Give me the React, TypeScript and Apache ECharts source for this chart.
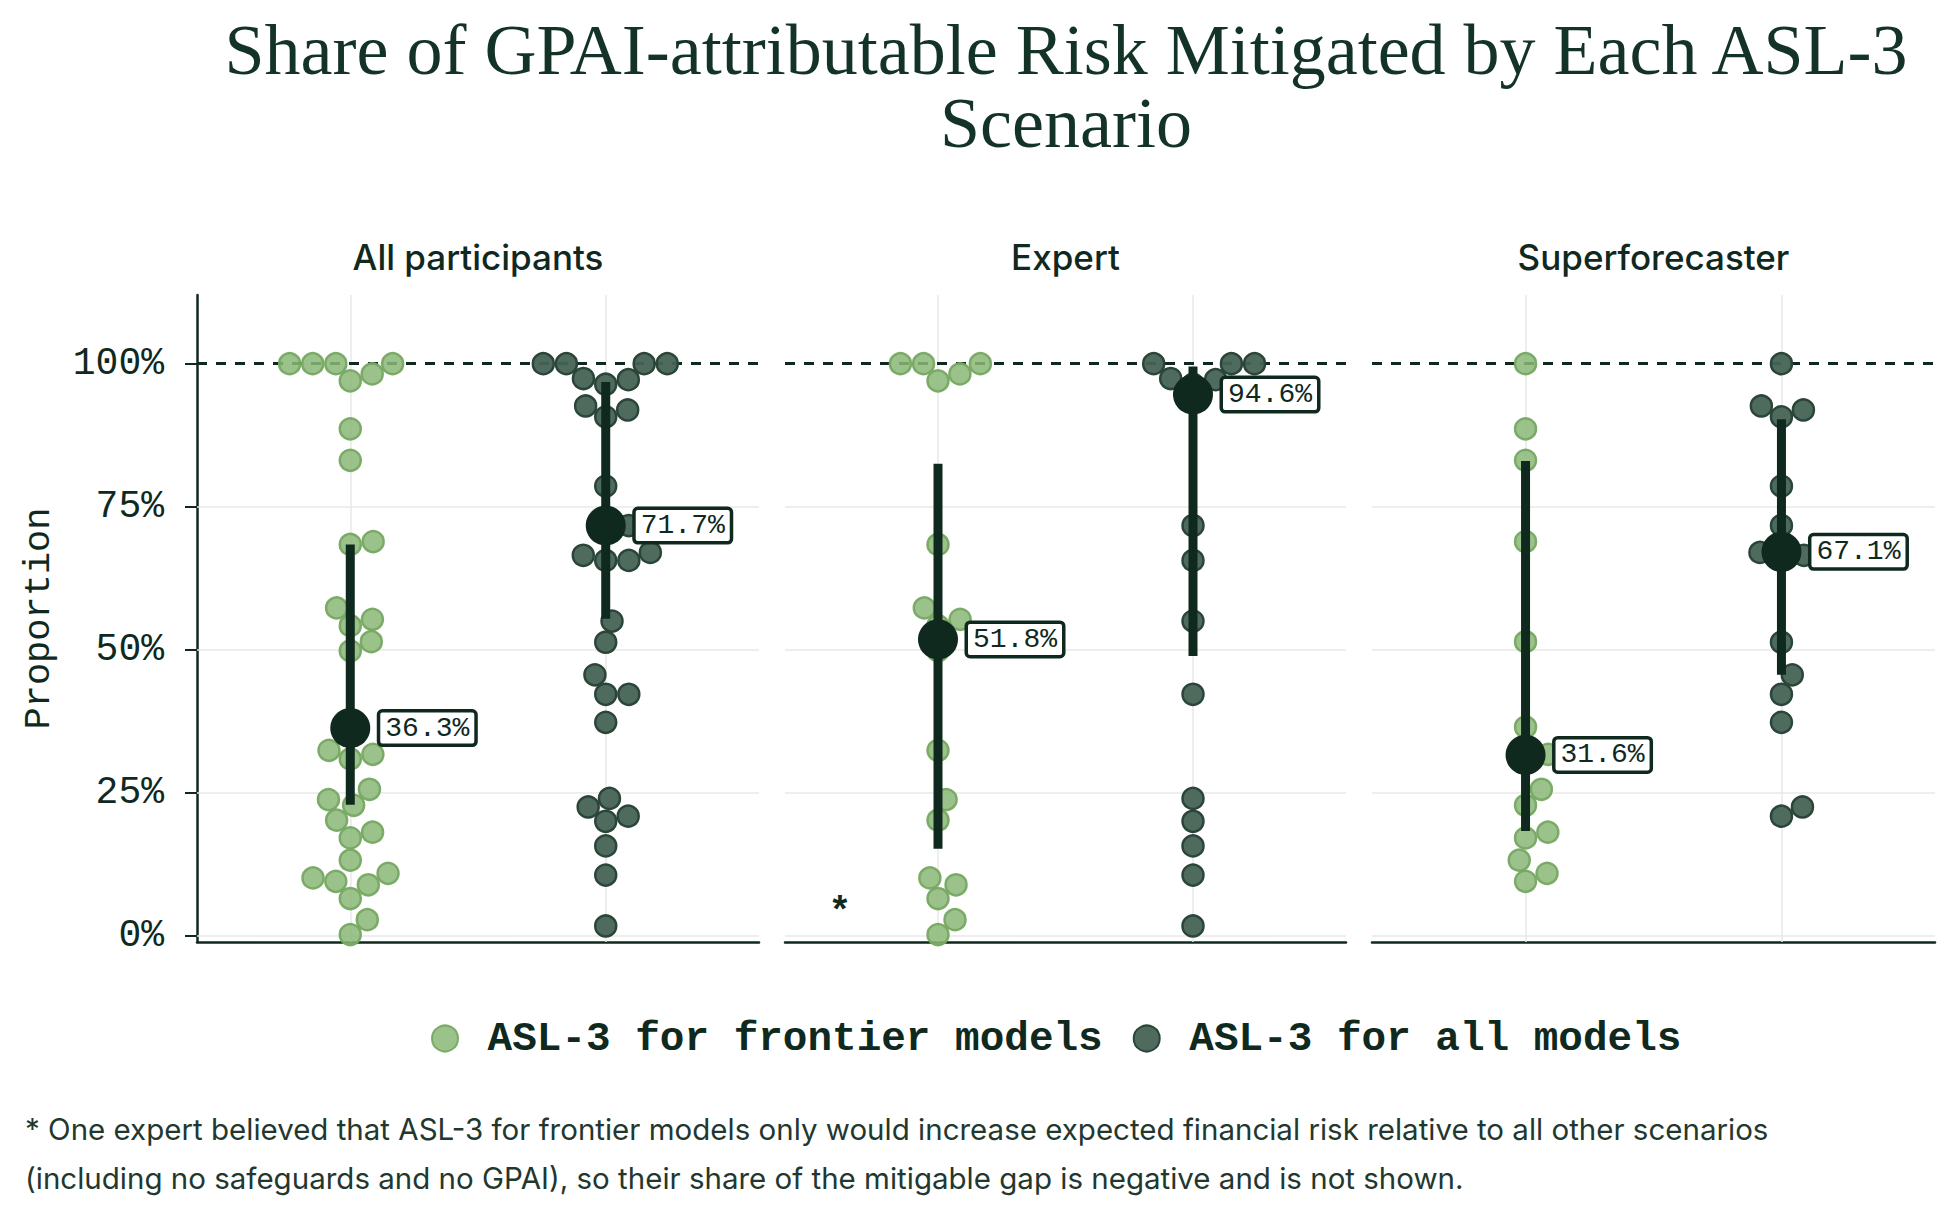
import { useEffect, useRef } from "react";
import * as echarts from "echarts";

const SCENARIOS = ["ASL-3 for frontier models", "ASL-3 for all models"];
const PANELS = ["All participants", "Expert", "Superforecaster"];
const Y_TICKS = [0, 25, 50, 75, 100];

// individual answers (%)
const expertFrontier = [100, 100, 100, 98.2, 97.0, 68.4, 57.3, 55.3, 54.2, 49.8, 32.4, 23.8, 20.2, 10.1, 8.9, 6.5, 2.8, 0.2];
const superFrontier = [100, 88.6, 83.1, 68.9, 51.4, 36.5, 31.7, 30.9, 25.6, 22.8, 18.1, 17.1, 13.2, 10.9, 9.5];
const expertAll = [100, 100, 100, 97.4, 97.2, 96.4, 71.7, 65.6, 55.0, 42.2, 24.0, 20.0, 15.7, 10.6, 1.7];
const superAll = [100, 92.6, 91.9, 90.7, 78.6, 71.7, 67.0, 66.5, 65.6, 51.3, 45.6, 42.2, 37.3, 22.5, 20.9];

// summary per panel: All participants, Expert, Superforecaster
const meanFrontier = [36.3, 51.8, 31.6];
const meanAll = [71.7, 94.6, 67.1];
const lowFrontier = [22.9, 15.2, 18.3];
const highFrontier = [68.4, 82.5, 83.0];
const lowAll = [55.4, 48.9, 45.6];
const highAll = [96.8, 99.5, 90.3];

const DARK = "#10291f";
const MONO = '"Liberation Mono", "DejaVu Sans Mono", monospace';
const SANS = "Inter, 'Noto Sans', sans-serif";

const GRID_LEFTS = [197, 785, 1372];
const GRID_WIDTHS = [562, 561, 563];
const GRID_TOP = 295;
const GRID_H = 647;
const Y_MIN = -1.1;
const Y_MAX = 112;
const X_MIN = -0.6;
const X_MAX = 1.6;
const R = 11; // swarm layout radius (px)

// seaborn-like beeswarm: returns horizontal offsets in x-axis units
function swarm(values: number[], pxPerX: number): number[] {
  const pxPerY = GRID_H / (Y_MAX - Y_MIN);
  const order = values.map((_, i) => i).sort((a, b) => values[a] - values[b]);
  const placed: { x: number; y: number }[] = [];
  const out: number[] = new Array(values.length).fill(0);
  for (const i of order) {
    const y = values[i] * pxPerY;
    const nb = placed.filter((p) => Math.abs(p.y - y) < 2 * R).reverse();
    const cands: number[] = [0];
    let rightFirst = true;
    for (const p of nb) {
      const dx = Math.sqrt(Math.max(4 * R * R - (y - p.y) ** 2, 0)) * 1.05;
      if (rightFirst) cands.push(p.x + dx, p.x - dx);
      else cands.push(p.x - dx, p.x + dx);
      rightFirst = !rightFirst;
    }
    const sorted = cands
      .map((c, k) => ({ c, k }))
      .sort((a, b) => Math.abs(a.c) - Math.abs(b.c) || a.k - b.k);
    let chosen = 0;
    for (const { c } of sorted) {
      if (nb.every((p) => (p.x - c) ** 2 + (p.y - y) ** 2 >= 4 * R * R - 1e-6)) {
        chosen = c;
        break;
      }
    }
    placed.push({ x: chosen, y });
    out[i] = chosen;
  }
  return out.map((o) => o / pxPerX);
}

const App = () => {
  const chartRef = useRef<HTMLDivElement>(null);

  useEffect(() => {
    if (!chartRef.current) return;
    const chart = echarts.init(chartRef.current, null, { renderer: "svg" });

    const frontierSets = [expertFrontier.concat(superFrontier), expertFrontier, superFrontier];
    const allSets = [expertAll.concat(superAll), expertAll, superAll];

    const series: any[] = [];
    PANELS.forEach((_, g) => {
      const pxPerX = GRID_WIDTHS[g] / (X_MAX - X_MIN);
      // grid lines + 100% reference
      series.push({
        type: "scatter",
        xAxisIndex: g,
        yAxisIndex: g,
        data: [],
        z: 1,
        silent: true,
        markLine: {
          silent: true,
          z: 1,
          symbol: "none",
          label: { show: false },
          lineStyle: { color: "#e9e9e9", width: 1.5, type: "solid" },
          data: [
            ...Y_TICKS.slice(0, 4).map((v) => ({ yAxis: v })),
            { xAxis: 0 },
            { xAxis: 1 },
            { yAxis: 100, lineStyle: { color: DARK, width: 3, type: [10, 9] } },
          ],
        },
      });
      [frontierSets[g], allSets[g]].forEach((vals, s) => {
        const offs = swarm(vals, pxPerX);
        series.push({
          type: "scatter",
          name: SCENARIOS[s],
          xAxisIndex: g,
          yAxisIndex: g,
          z: 3,
          symbol: "circle",
          symbolSize: 21,
          itemStyle:
            s === 0
              ? { color: "rgba(138,183,118,0.85)", borderColor: "rgba(118,168,98,0.95)", borderWidth: 2.5, opacity: 1 }
              : { color: "rgba(70,99,85,0.95)", borderColor: "#2b453a", borderWidth: 2.5, opacity: 1 },
          data: vals.map((v, i) => [s + offs[i], v]),
        });
      });
      const lows = [lowFrontier[g], lowAll[g]];
      const highs = [highFrontier[g], highAll[g]];
      [0, 1].forEach((s) => {
        series.push({
          type: "line",
          name: `range-${g}-${s}`,
          xAxisIndex: g,
          yAxisIndex: g,
          z: 4,
          silent: true,
          symbol: "none",
          lineStyle: { color: DARK, width: 9, cap: "butt", opacity: 1 },
          data: [
            [s, lows[s]],
            [s, highs[s]],
          ],
        });
      });
      series.push({
        type: "scatter",
        name: `mean-${g}`,
        xAxisIndex: g,
        yAxisIndex: g,
        z: 5,
        symbol: "circle",
        symbolSize: 40,
        itemStyle: { color: DARK, opacity: 1 },
        label: {
          show: true,
          position: "right",
          distance: 10,
          formatter: (p: any) => `${p.value[1].toFixed(1)}%`,
          fontFamily: MONO,
          fontSize: 28,
          color: DARK,
          backgroundColor: "#ffffff",
          borderColor: DARK,
          borderWidth: 3.5,
          borderRadius: 2,
          padding: [2, 5, 1, 5],
        },
        data: [
          [0, meanFrontier[g]],
          [1, meanAll[g]],
        ],
      });
    });

    chart.setOption({
      animation: false,
      backgroundColor: "#ffffff",
      grid: PANELS.map((_, g) => ({
        left: GRID_LEFTS[g],
        top: GRID_TOP,
        width: GRID_WIDTHS[g],
        height: GRID_H,
        outerBoundsMode: "none",
      })),
      xAxis: PANELS.map((_, g) => ({
        type: "value",
        gridIndex: g,
        min: X_MIN,
        max: X_MAX,
        axisLine: { show: true, onZero: false, lineStyle: { color: DARK, width: 2.5 } },
        axisTick: { show: false },
        axisLabel: { show: false },
        splitLine: { show: false },
      })),
      yAxis: PANELS.map((_, g) => ({
        type: "value",
        gridIndex: g,
        min: Y_MIN,
        max: Y_MAX,
        name: g === 0 ? "Proportion" : "",
        nameLocation: "middle",
        nameGap: 140,
        nameTextStyle: { fontFamily: MONO, fontSize: 37, color: DARK },
        axisLine: { show: g === 0, onZero: false, lineStyle: { color: DARK, width: 2.5 } },
        axisTick: {
          show: g === 0,
          customValues: Y_TICKS,
          length: 12,
          lineStyle: { color: DARK, width: 2 },
        },
        axisLabel: {
          show: g === 0,
          customValues: Y_TICKS,
          formatter: (v: number) => `${v}%`,
          fontFamily: MONO,
          fontSize: 38,
          color: DARK,
          margin: 33,
        },
        splitLine: { show: false },
      })),
      legend: {
        data: SCENARIOS,
        left: 426,
        top: 1013,
        icon: "circle",
        itemWidth: 26,
        itemHeight: 26,
        itemGap: 30,
        formatter: (n: string) => ` ${n}`,
        textStyle: { fontFamily: MONO, fontSize: 41, fontWeight: "bold", color: DARK },
      },
      graphic: [
        {
          type: "text",
          x: 1066,
          y: 13,
          style: {
            text: "Share of GPAI-attributable Risk Mitigated by Each ASL-3\nScenario",
            textAlign: "center",
            textVerticalAlign: "top",
            fontFamily: '"Liberation Serif", serif',
            fontSize: 72,
            lineHeight: 73,
            fill: "#143327",
          },
        },
        ...PANELS.map((p, g) => ({
          type: "text",
          x: GRID_LEFTS[g] + GRID_WIDTHS[g] / 2,
          y: 257,
          style: {
            text: p,
            textAlign: "center",
            textVerticalAlign: "middle",
            fontFamily: SANS,
            fontSize: 35,
            fontWeight: 500,
            fill: DARK,
          },
        })),
        {
          type: "text",
          x: 840,
          y: 912,
          style: {
            text: "*",
            textAlign: "center",
            textVerticalAlign: "middle",
            fontFamily: MONO,
            fontSize: 38,
            fontWeight: "bold",
            fill: DARK,
          },
        },
        {
          type: "text",
          x: 25,
          y: 1129,
          style: {
            text: "* One expert believed that ASL-3 for frontier models only would increase expected financial risk relative to all other scenarios",
            textVerticalAlign: "middle",
            fontFamily: SANS,
            fontSize: 29.5,
            fill: "#22382f",
          },
        },
        {
          type: "text",
          x: 25,
          y: 1178,
          style: {
            text: "(including no safeguards and no GPAI), so their share of the mitigable gap is negative and is not shown.",
            textVerticalAlign: "middle",
            fontFamily: SANS,
            fontSize: 29.5,
            fill: "#22382f",
          },
        },
      ],
      series,
    });

    return () => {
      chart.dispose();
    };
  }, []);

  return (
    <div
      ref={chartRef}
      style={{ position: "fixed", left: 0, top: 0, width: "1950px", height: "1215px" }}
    ></div>
  );
};

export default App;
